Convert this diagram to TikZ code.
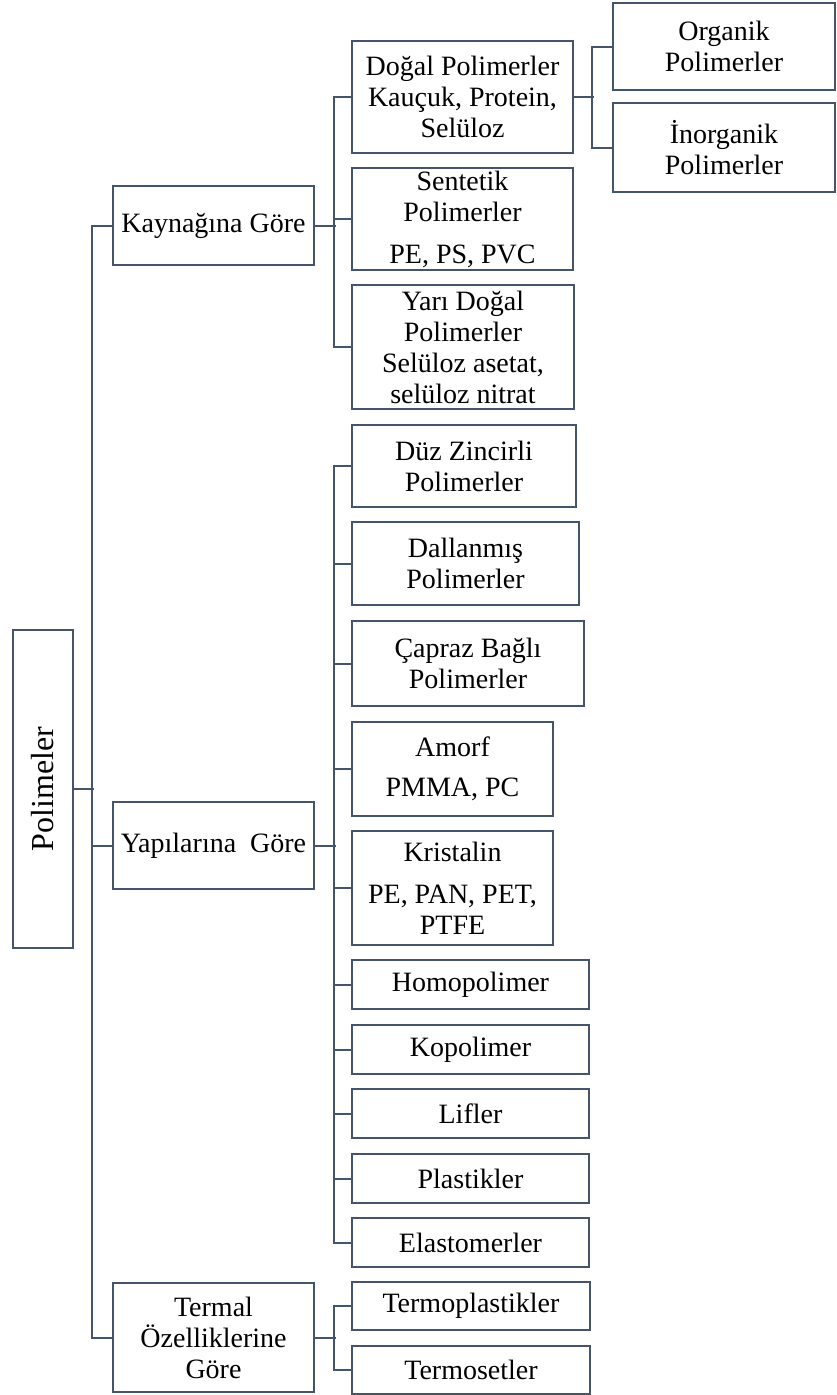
\documentclass[tikz,border=0pt]{standalone}
\usepackage{fontspec}
\setmainfont{Liberation Serif}
\definecolor{lc}{RGB}{68,84,106}
\begin{document}
\begin{tikzpicture}[x=1pt,y=-1pt,
  box/.style={draw=lc,line width=2pt,align=center,inner sep=0pt,
    font=\fontsize{28}{31}\selectfont,text=black},
  conn/.style={draw=lc,line width=2pt}]
\useasboundingbox (0,0) rectangle (837,1395);
% level 0
\node[box,minimum width=60pt,minimum height=318pt] (pol) at (43,789)
  {\rotatebox{90}{\fontsize{32}{34}\selectfont Polimeler}};
% level 1
\node[box,minimum width=201pt,minimum height=79pt] (kay) at (213.5,225.5) {Kaynağına Göre};
\node[box,minimum width=201pt,minimum height=87pt] (yap) at (213.5,845.5) {Yapılarına\ \ Göre};
\node[box,minimum width=201pt,minimum height=109pt] (ter) at (213.5,1337.5) {Termal\\Özelliklerine\\Göre};
% level 2 - kaynak
\node[box,minimum width=221pt,minimum height=112pt] (dog) at (462.5,97) {Doğal Polimerler\\Kauçuk, Protein,\\Selüloz};
\node[box,minimum width=221pt,minimum height=102pt] (sen) at (462.5,219) {Sentetik\\Polimerler\\[11pt]PE, PS, PVC};
\node[box,minimum width=222pt,minimum height=124pt] (yar) at (463,347) {Yarı Doğal\\Polimerler\\Selüloz asetat,\\selüloz nitrat};
% level 3
\node[box,minimum width=222pt,minimum height=87pt] (org) at (724,46.5) {Organik\\Polimerler};
\node[box,minimum width=222pt,minimum height=89pt] (ino) at (724,147.5) {İnorganik\\Polimerler};
% level 2 - yapi
\node[box,minimum width=224pt,minimum height=82pt] (duz) at (464,466) {Düz Zincirli\\Polimerler};
\node[box,minimum width=227pt,minimum height=83pt] (dal) at (465.5,563.5) {Dallanmış\\Polimerler};
\node[box,minimum width=232pt,minimum height=85pt] (cap) at (468,663.5) {Çapraz Bağlı\\Polimerler};
\node[box,minimum width=201pt,minimum height=94pt] (amo) at (452.5,769) {Amorf\\[9pt]PMMA, PC};
\node[box,minimum width=201pt,minimum height=114pt] (kri) at (452.5,888) {Kristalin\\[11pt]PE, PAN, PET,\\PTFE};
\node[box,minimum width=237pt,minimum height=49pt] (hom) at (470.5,984.5) {Homopolimer};
\node[box,minimum width=237pt,minimum height=49pt] (kop) at (470.5,1049.5) {Kopolimer};
\node[box,minimum width=237pt,minimum height=49pt] (lif) at (470.5,1113.5) {Lifler};
\node[box,minimum width=237pt,minimum height=49pt] (pla) at (470.5,1178.5) {Plastikler};
\node[box,minimum width=237pt,minimum height=49pt] (ela) at (470.5,1242.5) {Elastomerler};
% level 2 - termal
\node[box,minimum width=238pt,minimum height=48pt] (tpl) at (471,1306) {Termoplastikler};
\node[box,minimum width=238pt,minimum height=48pt] (tse) at (471,1370) {Termosetler};
% connectors level 0-1
\draw[conn] (pol.east) -- ++(20,0);
\draw[conn] (kay.west) -- ++(-20,0) |- (ter.west);
\draw[conn] (yap.west) -- ++(-20,0);
% kaynak
\draw[conn] (kay.east) -- ++(21,0);
\draw[conn] (dog.west) -- ++(-17,0) |- (yar.west);
\draw[conn] (sen.west) -- ++(-17,0);
% dogal
\draw[conn] (dog.east) -- ++(20,0);
\draw[conn] (org.west) -- ++(-20,0) |- (ino.west);
% yapi
\draw[conn] (yap.east) -- ++(21,0);
\draw[conn] (duz.west) -- ++(-17,0) |- (ela.west);
\foreach \n in {dal,cap,amo,kri,hom,kop,lif,pla}
  \draw[conn] (\n.west) -- ++(-17,0);
% termal
\draw[conn] (ter.east) -- ++(21,0);
\draw[conn] (tpl.west) -- ++(-17,0) |- (tse.west);
\end{tikzpicture}
\end{document}
